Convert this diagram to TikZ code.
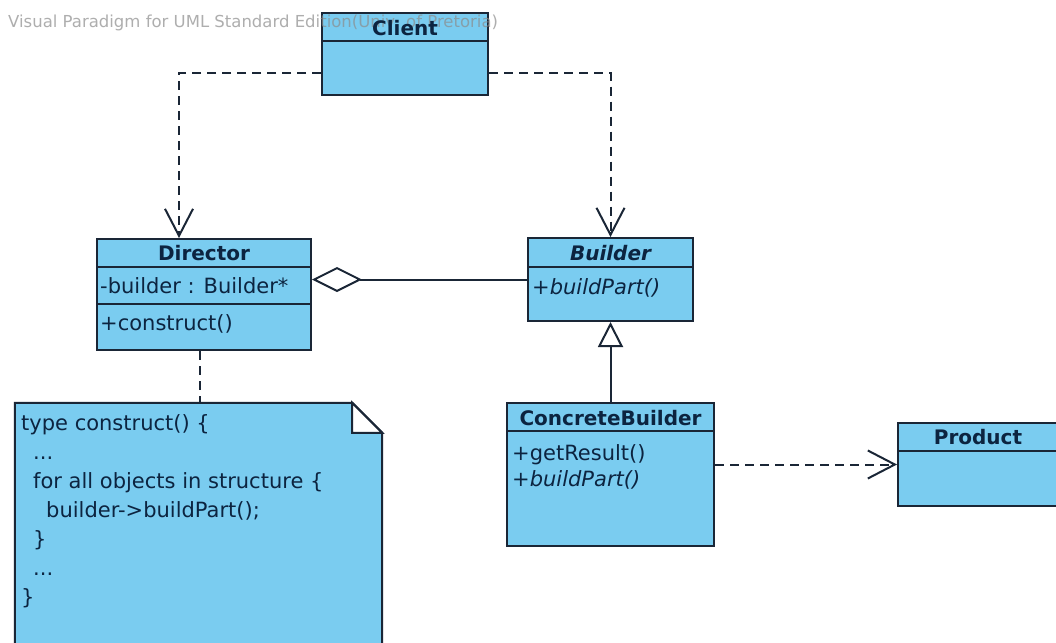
\documentclass[tikz,border=0pt]{standalone}
\usepackage{fontspec}
\setmainfont{DejaVu Sans}
\usetikzlibrary{arrows.meta}
\definecolor{boxfill}{RGB}{122,204,240}
\definecolor{boxline}{RGB}{26,38,54}
\definecolor{txt}{RGB}{12,36,64}
\definecolor{wm}{RGB}{140,140,140}
\begin{document}
\begin{tikzpicture}[x=1pt,y=-1pt,
  classbox/.style={draw=boxline, fill=boxfill, line width=2pt, rectangle, inner sep=0pt},
  ctitle/.style={font=\fontsize{20}{24}\selectfont\bfseries, text=txt, inner sep=0pt},
  member/.style={font=\fontsize{21}{25}\selectfont, text=txt, inner sep=0pt, anchor=base west},
  sepline/.style={draw=boxline, line width=2pt},
  depline/.style={draw=boxline, line width=2pt, dash pattern=on 9pt off 6pt},
  solidline/.style={draw=boxline, line width=2pt},
  vtip/.style={-{Straight Barb[length=27pt, width=28pt, line width=2pt]}}
]
\useasboundingbox (0,0) rectangle (1056,642);
\clip (0,0) rectangle (1056,642);
\fill[white] (0,0) rectangle (1056,642);

% Client
\node[classbox, minimum width=166pt, minimum height=82pt] (client) at (405,54) {};
\draw[sepline] ([yshift=-29pt]client.north west) -- ([yshift=-29pt]client.north east);
\node[anchor=base west, text=wm, opacity=0.7, inner sep=0pt, font=\fontsize{16.5}{18}\selectfont] (wmark) at (8,28) {Visual Paradigm for UML Standard Edition(Univ. of Pretoria)};
\node[ctitle] (clientT) at (405,28) {Client};

% Director
\node[classbox, minimum width=214pt, minimum height=111pt] (director) at (204,294.5) {};
\draw[sepline] ([yshift=-29pt]director.north west) -- ([yshift=-29pt]director.north east);
\draw[sepline] ([yshift=-66pt]director.north west) -- ([yshift=-66pt]director.north east);
\node[ctitle] (directorT) at (204,253) {Director};
\node[member] (dattr) at (100,293) {-builder : Builder*};
\node[member] (dop) at (100,330) {+construct()};

% Builder
\node[classbox, minimum width=165pt, minimum height=83pt] (builder) at (610.5,279.5) {};
\draw[sepline] ([yshift=-30pt]builder.north west) -- ([yshift=-30pt]builder.north east);
\node[ctitle, font=\fontsize{20}{24}\selectfont\bfseries\itshape] (builderT) at (610.5,253) {Builder};
\node[member, font=\fontsize{21}{25}\selectfont\itshape] (bop) at (532,294) {+buildPart()};

% ConcreteBuilder
\node[classbox, minimum width=207pt, minimum height=143pt] (cb) at (610.5,474.5) {};
\draw[sepline] ([yshift=-29pt]cb.north west) -- ([yshift=-29pt]cb.north east);
\node[ctitle] (cbT) at (610.5,418) {ConcreteBuilder};
\node[member] (cbop1) at (512,460) {+getResult()};
\node[member, font=\fontsize{21}{25}\selectfont\itshape] (cbop2) at (512,486) {+buildPart()};

% Product
\node[classbox, minimum width=162pt, minimum height=83pt] (product) at (979,464.5) {};
\draw[sepline] ([yshift=-29pt]product.north west) -- ([yshift=-29pt]product.north east);
\node[ctitle] (productT) at (978,437) {Product};

% Note
\node[minimum width=367pt, minimum height=257pt, inner sep=0pt] (note) at (198.5,531.5) {};
\draw[fill=boxfill, draw=boxline, line width=2pt, line join=miter]
  (note.south west) -- (note.north west) -- ([xshift=-30pt]note.north east)
  -- ([yshift=-30pt]note.north east) -- (note.south east) -- cycle;
\draw[fill=white, draw=boxline, line width=2pt, line join=miter]
  ([xshift=-30pt]note.north east) -- ([xshift=-30pt,yshift=-30pt]note.north east)
  -- ([yshift=-30pt]note.north east) -- cycle;
\node[member] (n1) at (21,430) {type construct() \{};
\node[member] (n2) at (33,459) {...};
\node[member] (n3) at (33,488) {for all objects in structure \{};
\node[member] (n4) at (46,517) {builder->buildPart();};
\node[member] (n5) at (33,546) {\}};
\node[member] (n6) at (33,575) {...};
\node[member] (n7) at (21,604) {\}};

% Connectors
\draw[depline, vtip] ([yshift=-19pt]client.west) -| ([xshift=-25pt]director.north);
\draw[depline, vtip] ([yshift=-19pt]client.east) -| (builder.north);
\draw[solidline, -{Diamond[fill=white, length=50pt, width=25pt, line width=2pt]}]
  (builder.west) -- (director.east |- builder.west);
\draw[solidline, -{Triangle[fill=white, length=25pt, width=25pt, line width=2pt]}]
  (cb.north) -- (builder.south);
\draw[depline, vtip] (cb.east |- product.west) -- (product.west);
\draw[depline] ([xshift=-4pt]director.south) -- ([xshift=1.5pt]note.north);
\end{tikzpicture}
\end{document}
